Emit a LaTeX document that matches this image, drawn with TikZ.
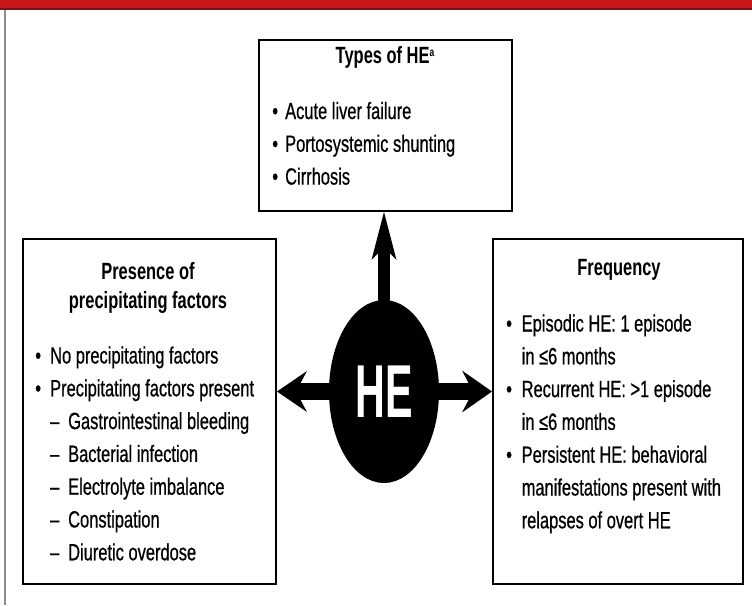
\documentclass[tikz,border=0pt]{standalone}
\usepackage{fontspec}
\setmainfont{Liberation Sans}[FakeStretch=0.70, UprightFeatures={FakeBold=0.6}]
\newfontfamily\hefont{Liberation Sans}[FakeStretch=0.55]
\usetikzlibrary{arrows.meta,shapes.geometric}
\definecolor{hdrred}{HTML}{C8161D}
\definecolor{hdrdark}{HTML}{7A1418}
\begin{document}
\begin{tikzpicture}[x=1pt,y=-1pt,
  box/.style={draw=black, line width=2pt, fill=white, inner sep=0pt},
  ttl/.style={font=\fontsize{23.5}{27}\selectfont\bfseries, inner sep=0pt, anchor=base},
  txt/.style={font=\fontsize{23.5}{27}\selectfont, inner sep=0pt, anchor=base west},
  bigarrow/.style={line width=#1, shorten <=-3pt},
  ]
\useasboundingbox (0,0) rectangle (752,605);
\fill[white] (0,0) rectangle (752,605);
\fill[hdrred] (0,0) rectangle (752,9);
\draw[hdrdark, line width=1.5pt] (0,9) -- (752,9);
\draw[black!45, line width=1.2pt] (5,10) -- (5,605);

% boxes
\node[box, minimum width=253pt, minimum height=171pt, anchor=north west] (types) at (258,39) {};
\node[box, minimum width=253pt, minimum height=345pt, anchor=north west] (precip) at (22,238) {};
\node[box, minimum width=250pt, minimum height=345pt, anchor=north west] (freq) at (492,238) {};

% HE ellipse
\node[ellipse, fill=black, minimum width=110pt, minimum height=183pt, inner sep=0pt,
      text=white, font=\hefont\bfseries\fontsize{75}{75}\selectfont] (he) at (384,391.5) {HE};

% arrows
\draw[bigarrow=12pt, -{Stealth[length=48pt, width=25pt, inset=13pt, line width=0pt]}]
  (he.north) -- (he.north |- types.south);
\draw[bigarrow=17pt, -{Stealth[length=30pt, width=42pt, inset=11pt, line width=0pt]}]
  (he.east) -- (he.east -| freq.west);
\draw[bigarrow=17pt, -{Stealth[length=30pt, width=41pt, inset=11pt, line width=0pt]}]
  (he.west) -- (he.west -| precip.east);

% top box text
\node[ttl] (ttypes) at (385,63) {Types of HE\raisebox{7pt}{\fontsize{12}{12}\selectfont a}};
\node[txt] (t1) at (272.1,119) {\makebox[12.9pt][l]{•}Acute liver failure};
\node[txt] (t2) at (272.1,151.8) {\makebox[12.9pt][l]{•}Portosystemic shunting};
\node[txt] (t3) at (272.1,184.6) {\makebox[12.9pt][l]{•}Cirrhosis};

% left box text
\node[ttl] (tp1) at (148,279.3) {Presence of};
\node[ttl] (tp2) at (148,308.5) {precipitating factors};
\node[txt] (p1) at (35.1,363.5) {\makebox[14.9pt][l]{•}No precipitating factors};
\node[txt] (p2) at (35.1,396.3) {\makebox[14.9pt][l]{•}Precipitating factors present};
\node[txt] (p3) at (50,429.1) {\makebox[18pt][l]{–}Gastrointestinal bleeding};
\node[txt] (p4) at (50,461.9) {\makebox[18pt][l]{–}Bacterial infection};
\node[txt] (p5) at (50,494.7) {\makebox[18pt][l]{–}Electrolyte imbalance};
\node[txt] (p6) at (50,527.5) {\makebox[18pt][l]{–}Constipation};
\node[txt] (p7) at (50,560.3) {\makebox[18pt][l]{–}Diuretic overdose};

% right box text
\node[ttl] (tf) at (619,275) {Frequency};
\node[txt] (f1) at (506,331.5) {\makebox[15.5pt][l]{•}Episodic HE: 1 episode};
\node[txt] (f2) at (506,364.3) {\hspace*{15.5pt}in ≤6 months};
\node[txt] (f3) at (506,397.1) {\makebox[15.5pt][l]{•}Recurrent HE: >1 episode};
\node[txt] (f4) at (506,429.9) {\hspace*{15.5pt}in ≤6 months};
\node[txt] (f5) at (506,462.7) {\makebox[15.5pt][l]{•}Persistent HE: behavioral};
\node[txt] (f6) at (506,495.5) {\hspace*{15.5pt}manifestations present with};
\node[txt] (f7) at (506,528.3) {\hspace*{15.5pt}relapses of overt HE};
\end{tikzpicture}
\end{document}
